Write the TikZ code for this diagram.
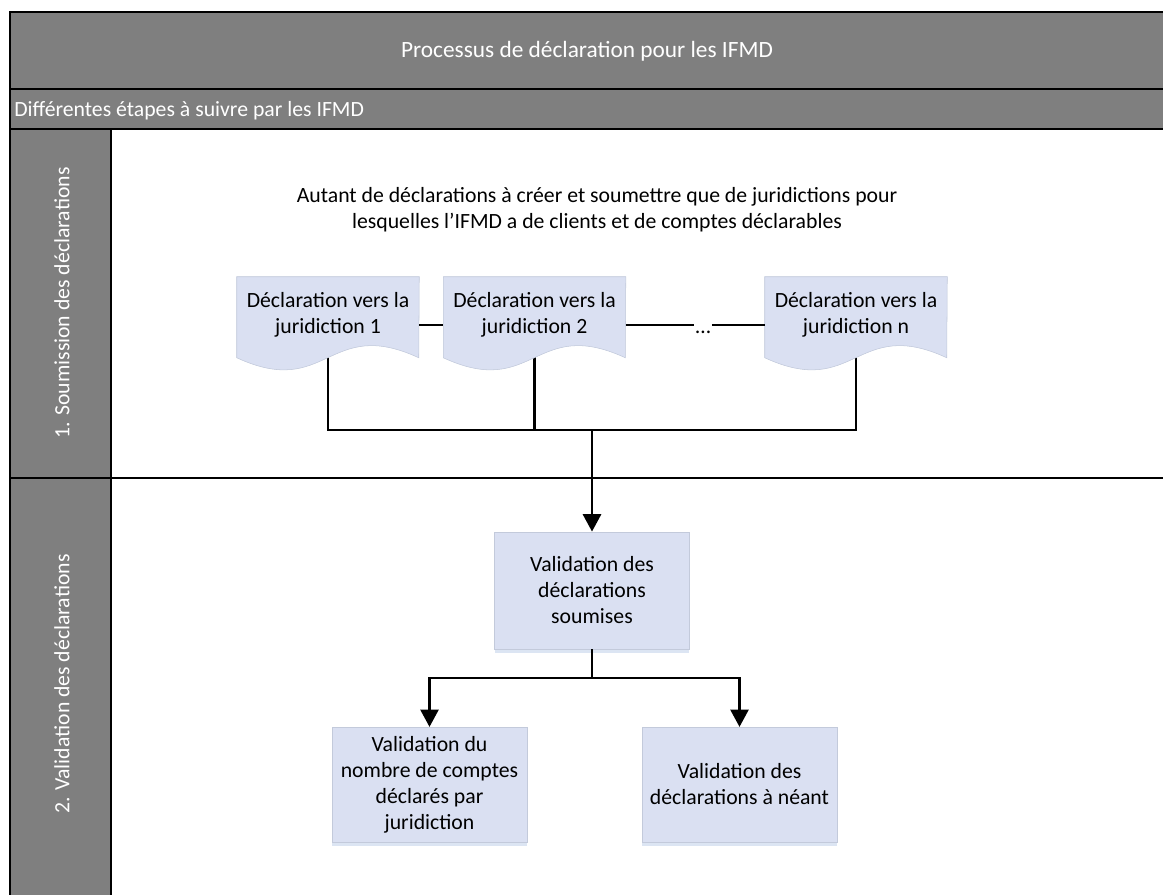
\documentclass[tikz,border=0pt]{standalone}
\usepackage{fontspec}
\setmainfont{Carlito}
\usetikzlibrary{positioning,arrows.meta,backgrounds,shadows}
\pgfdeclarelayer{docs}
\pgfsetlayers{background,docs,main}
\definecolor{headgray}{HTML}{7F7F7F}
\definecolor{boxfill}{HTML}{DAE0F2}
\definecolor{boxline}{HTML}{C3CADB}
\definecolor{shadowblue}{HTML}{D3DEF0}

% document shape with a wavy bottom, drawn under the text node
\newcommand{\docshape}[1]{%
    \begin{pgfonlayer}{docs}
        \fill[shadowblue, opacity=0.8, yshift=-3pt] (#1.north west) -- ++(0,81)
            .. controls +(91,42) and +(-91,-42) .. ++(182,0) -- (#1.north east) -- cycle;
        \filldraw[fill=boxfill, draw=boxline, line width=0.4pt] (#1.north west) -- ++(0,81)
            .. controls +(91,42) and +(-91,-42) .. ++(182,0) -- (#1.north east) -- cycle;
    \end{pgfonlayer}}

\begin{document}
\begin{tikzpicture}[x=0.75pt,y=-0.75pt,
    font=\fontsize{16.3}{19.5}\selectfont,
    frame/.style={draw=black, line width=1.5pt},
    head/.style={frame, fill=headgray},
    headtext/.style={text=white},
    doc/.style={rectangle, minimum width=136.5pt, minimum height=57pt, align=center},
    box/.style={rectangle, fill=boxfill, draw=boxline, line width=0.4pt, align=center,
        minimum width=146pt,
        drop shadow={shadow xshift=0pt, shadow yshift=-3pt, fill=shadowblue, opacity=0.8}},
    conn/.style={line width=2pt},
    arr/.style={conn, -{Triangle[length=13pt,width=13.5pt]}}]
    \useasboundingbox (0,0) rectangle (1163,894);

    % header
    \draw[head] (10,12) rectangle (1175,89);
    \node[headtext, font=\fontsize{17.5}{21}\selectfont] (title) at (587,51) {Processus de déclaration pour les IFMD};
    \draw[head] (10,89) rectangle (1175,129);
    \node[headtext, anchor=west, inner sep=3pt] (sub) at (10,111) {Différentes étapes à suivre par les IFMD};

    % lane 1
    \draw[frame] (10,129) rectangle (1175,478);
    \draw[head] (10,129) rectangle (111,478);
    \node[headtext, rotate=90] (lane1) at (62,303) {1. Soumission des déclarations};

    % lane 2
    \draw[frame] (10,478) rectangle (1175,905);
    \draw[head] (10,478) rectangle (111,905);
    \node[headtext, rotate=90] (lane2) at (62,684) {2. Validation des déclarations};

    % declarations
    \node (intro) at (597,210) [align=center] {Autant de déclarations à créer et soumettre que de juridictions pour\\lesquelles l’IFMD a de clients et de comptes déclarables};
    \node[doc] (d1) at (328,315) {Déclaration vers la\\juridiction 1};
    \node[doc] (d2) [right=18pt of d1] {Déclaration vers la\\juridiction 2};
    \node[doc] (dn) at (856,315) {Déclaration vers la\\juridiction n};
    \docshape{d1}
    \docshape{d2}
    \docshape{dn}
    \node (dots) at (703,325) [inner sep=0.75pt, text height=13pt, text depth=0pt] {…};
    \draw[conn] ([yshift=-7.5pt]d1.east) -- ([yshift=-7.5pt]d2.west);
    \draw[conn] ([yshift=-7.5pt]d2.east) -- (dots) -- ([yshift=-7.5pt]dn.west);

    % validation
    \node[box, minimum height=88pt] (v) at (592,590.5) {Validation des\\déclarations\\soumises};
    \node[box, minimum height=86pt] (vl) at (429.5,784.5) {Validation du\\nombre de comptes\\déclarés par\\juridiction};
    \node[box, minimum height=86pt] (vr) at (739.5,784.5) {Validation des\\déclarations à néant};

    \coordinate (bus) at (592,430);
    \coordinate (split) at (592,678);
    \begin{scope}[on background layer]
        \draw[conn] (d1.center) |- (bus);
        \draw[conn] (d2.center) |- (bus);
        \draw[conn] (dn.center) |- (bus);
    \end{scope}
    \draw[arr] (bus) -- (v.north);
    \draw[conn] (v.south) -- (split);
    \draw[arr] (split) -| (vl.north);
    \draw[arr] (split) -| (vr.north);
\end{tikzpicture}
\end{document}
